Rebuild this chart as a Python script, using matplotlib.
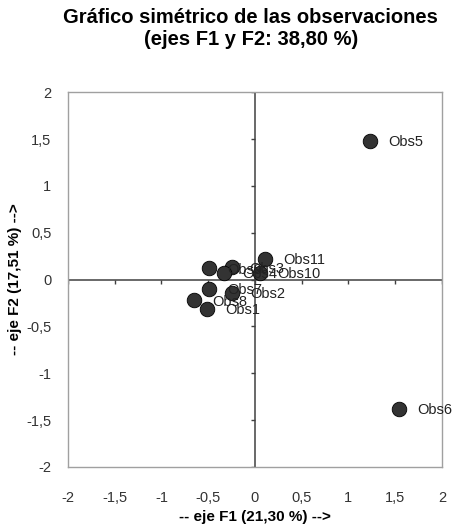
import numpy as np
import matplotlib.pyplot as plt

plt.rcParams['font.family'] = ['Liberation Sans', 'DejaVu Sans']

# observation coordinates on F1 / F2
obs_names = ['Obs1', 'Obs2', 'Obs3', 'Obs4', 'Obs5', 'Obs6',
             'Obs7', 'Obs8', 'Obs9', 'Obs10', 'Obs11']
f1 = [-0.51, -0.24, -0.25, -0.33, 1.23, 1.54,
      -0.49, -0.65, -0.49, 0.05, 0.11]
f2 = [-0.31, -0.14, 0.13, 0.07, 1.48, -1.38,
      -0.10, -0.22, 0.12, 0.07, 0.22]

ticks = [-2, -1.5, -1, -0.5, 0, 0.5, 1, 1.5, 2]
tick_labels = ['-2', '-1,5', '-1', '-0,5', '0', '0,5', '1', '1,5', '2']

fig = plt.figure(figsize=(4.56, 5.30), dpi=100)
ax = fig.add_axes([0.149, 0.119, 0.820, 0.707])

ax.set_xlim(-2, 2)
ax.set_ylim(-2, 2)
ax.set_xticks(ticks)
ax.set_xticklabels(tick_labels)
ax.set_yticks(ticks)
ax.set_yticklabels(tick_labels)
ax.tick_params(length=0, labelsize=10.5, labelcolor='#333333')
ax.tick_params(axis='x', pad=17)
ax.tick_params(axis='y', pad=12)
for s in ax.spines.values():
    s.set_color('#a0a0a0')
    s.set_linewidth(1.0)

# zero axes with small ticks
ax.axhline(0, color='#404040', lw=1.1, zorder=1)
ax.axvline(0, color='#404040', lw=1.1, zorder=1)
ax.plot(ticks, np.zeros(len(ticks)), ls='none', marker=3, ms=3,
        color='#404040', mew=1, zorder=1)
ax.plot(np.zeros(len(ticks)), ticks, ls='none', marker=0, ms=3,
        color='#404040', mew=1, zorder=1)

ax.scatter(f1, f2, s=110, color='#333333', edgecolors='black',
           linewidths=0.6, zorder=3)
for name, x, y in zip(obs_names, f1, f2):
    ax.annotate(name, (x, y), xytext=(13, -1), textcoords='offset points',
                va='center', ha='left', fontsize=10.5, color='#222222', zorder=4)

ax.set_xlabel('-- eje F1 (21,30 %) -->', fontsize=11, fontweight='bold',
              labelpad=4)
ax.set_ylabel('-- eje F2 (17,51 %) -->', fontsize=11, fontweight='bold',
              labelpad=3)

fig.text(0.55, 0.985, 'Gráfico simétrico de las observaciones\n(ejes F1 y F2: 38,80 %)',
         ha='center', va='top', fontsize=14.5, fontweight='bold',
         linespacing=1.2)

fig.savefig('out.png', dpi=100)
